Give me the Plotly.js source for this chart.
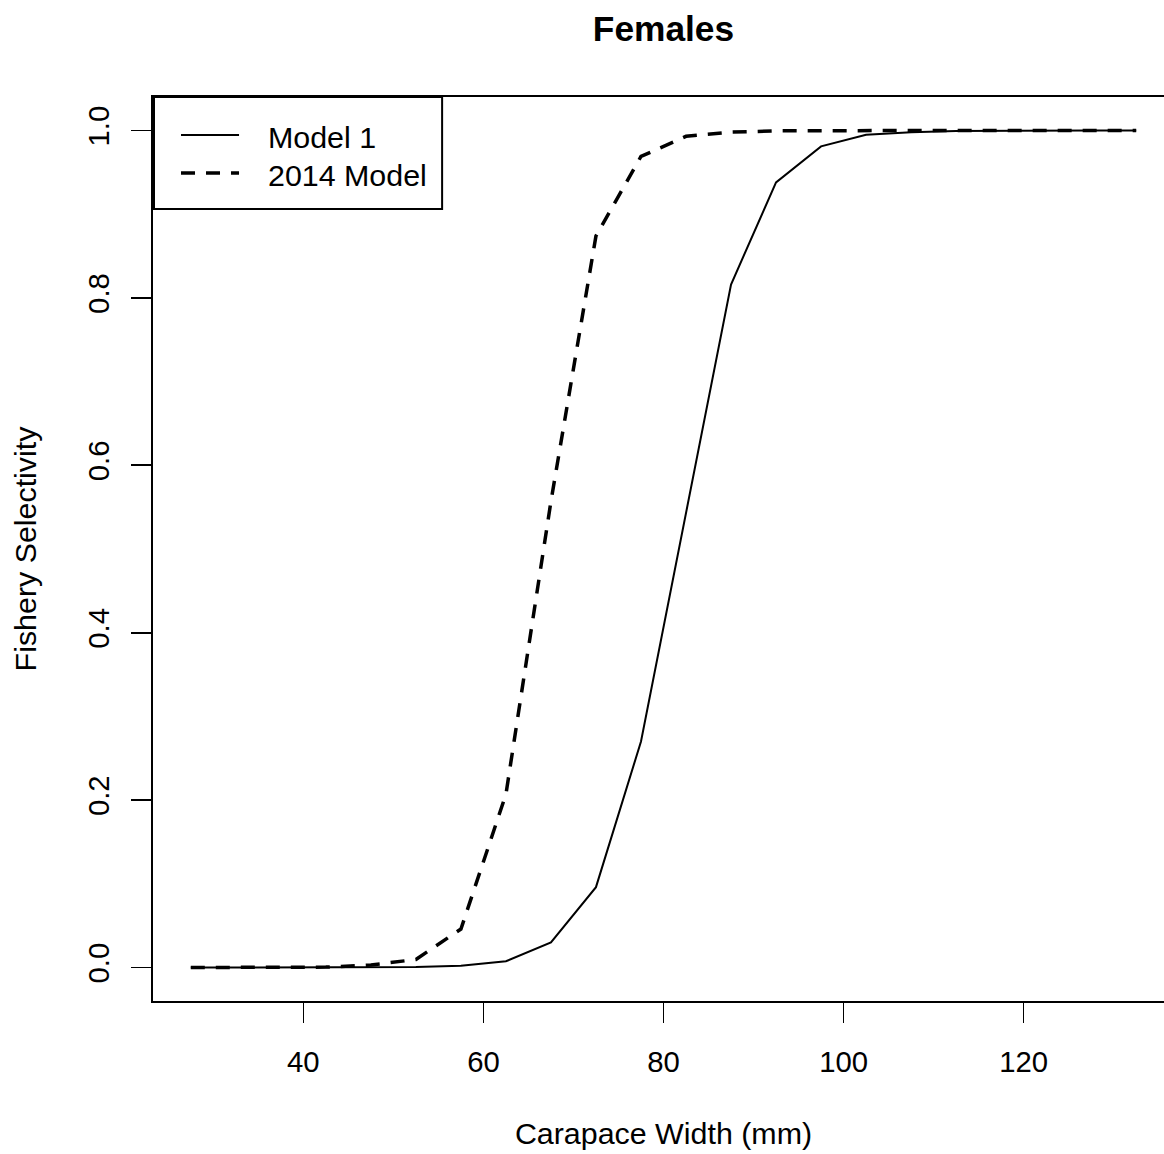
<!DOCTYPE html>
<html>
<head>
<meta charset="utf-8">
<script src="https://cdn.plot.ly/plotly-3.0.1.min.js"></script>
<style>
html, body { margin: 0; padding: 0; overflow: hidden; background: #ffffff; }
#chart { width: 1184px; height: 1154px; }
</style>
</head>
<body>
<div id="chart"></div>
<script>
// Carapace width bins (mm)
const carapaceWidth = [27.5, 32.5, 37.5, 42.5, 47.5, 52.5, 57.5, 62.5, 67.5, 72.5, 77.5,
                       82.5, 87.5, 92.5, 97.5, 102.5, 107.5, 112.5, 117.5, 122.5, 127.5, 132.5];
// Fishery selectivity, Model 1
const model1 = [0, 0, 0, 0, 0.0002, 0.0006, 0.002, 0.0075, 0.030, 0.096, 0.270,
                0.545, 0.816, 0.938, 0.981, 0.995, 0.998, 0.9994, 0.9998, 0.9999, 1.0, 1.0];
// Fishery selectivity, 2014 Model
const model2014 = [0, 0, 0.0001, 0.0005, 0.003, 0.0096, 0.046, 0.207, 0.557, 0.874, 0.969,
                   0.993, 0.998, 0.9995, 0.9998, 0.9999, 1.0, 1.0, 1.0, 1.0, 1.0, 1.0];
const seriesNames = ["Model 1", "2014 Model"];
const xTicks = [40, 60, 80, 100, 120];
const yTicks = [0.0, 0.2, 0.4, 0.6, 0.8, 1.0];
const yTickText = ["0.0", "0.2", "0.4", "0.6", "0.8", "1.0"];

const FONT = "Liberation Sans, Arial, Helvetica, sans-serif";
const TICK_FS = 29.3;
const LAB_FS = 30.4;

const solidStyle = { color: "#000000", width: 2 };
const dashStyle = { color: "#000000", width: 3.5, dash: "14px,11px" };

const traces = [
  { x: carapaceWidth, y: model1, name: seriesNames[0], type: "scatter", mode: "lines", line: solidStyle },
  { x: carapaceWidth, y: model2014, name: seriesNames[1], type: "scatter", mode: "lines", line: dashStyle }
];

// Legend box drawn in paper coordinates (plot area: x 153..1173.6, y 97..1001 px)
const PW = 1020.6, PH = 904, PL = 153, PB = 1001;
const px = v => (v - PL) / PW;
const py = v => (PB - v) / PH;
const legendRows = [135, 173];

const shapes = [
  { type: "rect", xref: "paper", yref: "paper", x0: px(154), x1: px(442), y0: py(209), y1: 1,
    line: { color: "#000000", width: 2 }, fillcolor: "rgba(0,0,0,0)" },
  { type: "line", xref: "paper", yref: "paper", x0: px(181), x1: px(239), y0: py(legendRows[0]), y1: py(legendRows[0]),
    line: { color: "#000000", width: 2 } },
  { type: "line", xref: "paper", yref: "paper", x0: px(181), x1: px(239), y0: py(legendRows[1]), y1: py(legendRows[1]),
    line: { color: "#000000", width: 3.5, dash: "14px,11px" } }
];

const annotations = seriesNames.map((name, i) => ({
  text: name, xref: "paper", yref: "paper", x: px(266), y: py(legendRows[i] + 2),
  xanchor: "left", yanchor: "middle", showarrow: false,
  font: { family: FONT, size: LAB_FS, color: "#000000" }
}));

const layout = {
  width: 1184,
  height: 1154,
  margin: { l: PL, r: 1184 - PL - PW, t: 97, b: 1154 - 97 - PH },
  paper_bgcolor: "#ffffff",
  plot_bgcolor: "#ffffff",
  font: { family: FONT, size: TICK_FS, color: "#000000" },
  showlegend: false,
  title: {
    text: "<b>Females</b>",
    font: { family: FONT, size: 35.3, color: "#000000" },
    x: 0.5, xref: "paper", xanchor: "center",
    y: 1 - 29 / 1154, yref: "container", yanchor: "middle"
  },
  xaxis: {
    range: [23.3, 136.7],
    tickmode: "array", tickvals: xTicks, ticktext: xTicks.map(String),
    ticks: "outside", ticklen: 20, tickwidth: 1.6, tickcolor: "#000000",
    ticklabelstandoff: 14,
    showline: true, linewidth: 2, linecolor: "#000000", mirror: true,
    showgrid: false, zeroline: false,
    tickfont: { family: FONT, size: TICK_FS, color: "#000000" },
    title: { text: "Carapace Width (mm)", font: { family: FONT, size: LAB_FS, color: "#000000" }, standoff: 46 }
  },
  yaxis: {
    range: [-0.04, 1.04],
    tickmode: "array", tickvals: yTicks, ticktext: yTickText,
    tickangle: -90,
    ticks: "outside", ticklen: 20, tickwidth: 1.6, tickcolor: "#000000",
    ticklabelstandoff: 10,
    showline: true, linewidth: 2, linecolor: "#000000", mirror: true,
    showgrid: false, zeroline: false,
    tickfont: { family: FONT, size: TICK_FS, color: "#000000" },
    title: { text: "Fishery Selectivity", font: { family: FONT, size: LAB_FS, color: "#000000" }, standoff: 37 }
  },
  shapes: shapes,
  annotations: annotations
};

Plotly.newPlot("chart", traces, layout, { staticPlot: true, displayModeBar: false });
</script>
</body>
</html>
